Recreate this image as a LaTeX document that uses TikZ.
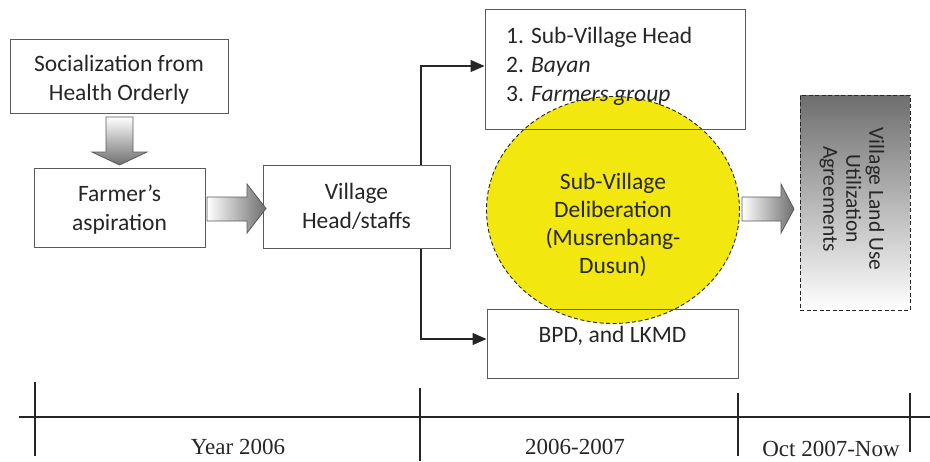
\documentclass[tikz,border=0pt]{standalone}
\usepackage{fontspec}
\setmainfont{Carlito}
\newfontfamily\timesfont{Liberation Serif}
\usetikzlibrary{shapes.geometric,arrows.meta,calc}
\definecolor{txt}{HTML}{262626}
\definecolor{edge}{HTML}{5A5A5A}
\definecolor{sunny}{HTML}{F2E80F}
\definecolor{arrgray}{HTML}{6E6E6E}
\begin{document}
\begin{tikzpicture}[x=1pt,y=-1pt,
  box/.style={draw=edge,line width=1pt,rectangle,inner sep=0pt},
  lbl/.style={align=center,text=txt,inner sep=0pt,font=\fontsize{23.5}{29}\selectfont},
  conn/.style={draw=txt,line width=1.1pt,-{Triangle[length=14pt,width=12pt]}},
  fatarrow/.style={draw=edge,line width=0.8pt},
  tick/.style={draw=txt,line width=1.1pt},
  period/.style={text=txt,font=\timesfont\fontsize{23}{26}\selectfont,inner sep=0pt}]
\useasboundingbox (0,0) rectangle (930,461);

% yellow deliberation ellipse
\node[ellipse,draw=txt,line width=0.9pt,dash pattern=on 4pt off 2.5pt,fill=sunny,
  minimum width=253pt,minimum height=227pt,inner sep=0pt] (delib) at (613,210) {};
\node[lbl,font=\fontsize{23.5}{28}\selectfont] (delibtext) at (613,225)
  {Sub-Village\\Deliberation\\(Musrenbang-\\Dusun)};

% boxes
\node[box,minimum width=218pt,minimum height=74pt] (social) at (119,76) {};
\node[lbl] (socialtext) at (119,80) {Socialization from\\Health Orderly};
\node[box,minimum width=171pt,minimum height=79pt] (farmer) at (119.5,207.5) {};
\node[lbl] (farmertext) at (119.5,210) {Farmer's\\aspiration};
\node[box,fill=white,minimum width=187pt,minimum height=83pt] (vhead) at (356.5,206.5) {};
\node[lbl] (vheadtext) at (356.5,206.5) {Village\\Head/staffs};
\node[box,minimum width=260pt,minimum height=120pt] (topbox) at (615,69) {};
\node[lbl,anchor=west,align=left] (toplist) at (506,66)
  {1. Sub-Village Head\\2. \textit{Bayan}\\3. \textit{Farmers group}};
\node[box,minimum width=251pt,minimum height=69pt] (botbox) at (612.5,343.5) {};
\node[lbl] (botlabel) at (612.5,336) {BPD, and LKMD};

% result box
\node[rectangle,draw=txt,line width=0.9pt,dash pattern=on 4pt off 2.5pt,
  top color=arrgray,bottom color=white,minimum width=110pt,minimum height=215pt,
  inner sep=0pt] (agree) at (855,202.5) {};
\node[rotate=-90,align=center,text=txt,inner sep=0pt,
  font=\fontsize{21.5}{23}\selectfont] (agreetext) at (852,199)
  {Village Land Use\\Utilization\\Agreements};

% block arrows
\path[fatarrow,top color=white,bottom color=arrgray]
  (106,117) -- (133,117) -- (133,152) -- (147,152) -- (119.5,165) -- (92,152) -- (106,152) -- cycle;
\path[fatarrow,left color=white,right color=arrgray]
  (207,197) -- (247,197) -- (247,184) -- (266,208.5) -- (247,233) -- (247,221) -- (207,221) -- cycle;
\path[fatarrow,left color=white,right color=arrgray]
  (742,197) -- (781,197) -- (781,184) -- (794,209) -- (781,233) -- (781,221) -- (742,221) -- cycle;

% connectors
\coordinate (vx) at (421,0);
\draw[conn] (vhead.north -| vx) |- ([yshift=3pt]topbox.west);
\draw[conn] (vhead.south -| vx) |- ([yshift=4.5pt]botbox.west);

% timeline
\coordinate (tl0) at (19,417);
\coordinate (tl1) at (930,417);
\draw[tick] (tl0) -- (tl1);
\coordinate (t1a) at (35,382); \coordinate (t1b) at (35,456);
\coordinate (t2a) at (420,388); \coordinate (t2b) at (420,461);
\coordinate (t3a) at (738,393); \coordinate (t3b) at (738,456);
\coordinate (t4a) at (910,393); \coordinate (t4b) at (910,452);
\draw[tick] (t1a) -- (t1b);
\draw[tick] (t2a) -- (t2b);
\draw[tick] (t3a) -- (t3b);
\draw[tick] (t4a) -- (t4b);
\node[period] (p1) at (238,447) {Year 2006};
\node[period] (p2) at (575,447) {2006-2007};
\node[period] (p3) at (831,449) {Oct 2007-Now};
\end{tikzpicture}
\end{document}
